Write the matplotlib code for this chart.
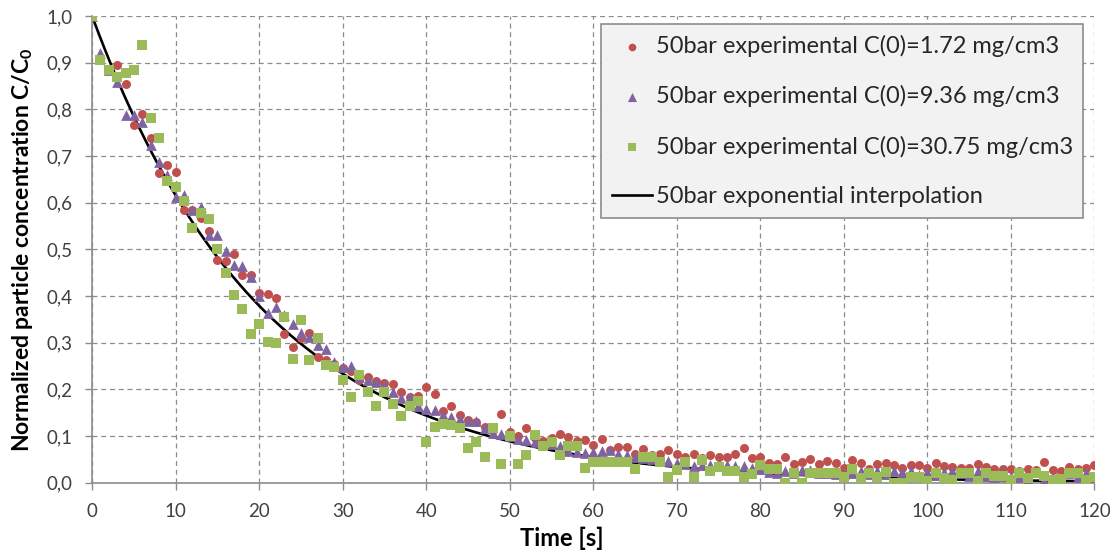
import numpy as np
import matplotlib
matplotlib.use("Agg")
import matplotlib.pyplot as plt
from matplotlib.ticker import FuncFormatter, MultipleLocator

plt.rcParams['font.family'] = ['Lato', 'DejaVu Sans']
plt.rcParams['mathtext.fontset'] = 'custom'
plt.rcParams['mathtext.rm'] = 'Lato'
plt.rcParams['mathtext.bf'] = 'Lato:bold'

time_s = list(range(0, 121))

red_172 = [1.0, 0.91, 0.885, 0.895, 0.854, 0.766, 0.79, 0.739, 0.663, 0.681,
           0.666, 0.584, 0.585, 0.568, 0.54, 0.477, 0.474, 0.491, 0.444, 0.444,
           0.407, 0.404, 0.395, 0.319, 0.29, 0.311, 0.321, 0.27, 0.262, 0.255,
           0.245, 0.24, 0.22, 0.227, 0.218, 0.213, 0.211, 0.195, 0.183, 0.186,
           0.205, 0.189, 0.154, 0.164, 0.145, 0.134, 0.13, 0.12, 0.112, 0.148,
           0.109, 0.1, 0.116, 0.095, 0.09, 0.096, 0.104, 0.098, 0.089, 0.091,
           0.081, 0.094, 0.069, 0.076, 0.076, 0.062, 0.071, 0.06, 0.062, 0.069,
           0.062, 0.055, 0.062, 0.053, 0.059, 0.054, 0.055, 0.062, 0.074, 0.052,
           0.054, 0.043, 0.039, 0.054, 0.039, 0.045, 0.051, 0.04, 0.046, 0.043,
           0.032, 0.048, 0.041, 0.03, 0.039, 0.043, 0.038, 0.032, 0.037, 0.037,
           0.032, 0.041, 0.036, 0.034, 0.032, 0.032, 0.039, 0.034, 0.03, 0.029,
           0.03, 0.025, 0.029, 0.026, 0.045, 0.026, 0.025, 0.034, 0.029, 0.032,
           0.038]

purple_936 = [1.0, 0.92, 0.884, 0.859, 0.789, 0.788, 0.772, 0.724, 0.688, 0.659,
              0.613, 0.616, 0.584, 0.591, 0.531, 0.531, 0.496, 0.466, 0.465, 0.441,
              0.399, 0.363, 0.377, 0.36, 0.341, 0.321, 0.313, 0.296, 0.286, 0.259,
              0.247, 0.249, 0.227, 0.221, 0.216, 0.209, 0.195, 0.181, 0.184, 0.164,
              0.157, 0.155, 0.146, 0.141, 0.136, 0.132, 0.131, 0.118, 0.107, 0.104,
              0.1, 0.093, 0.091, 0.087, 0.082, 0.082, 0.079, 0.068, 0.066, 0.064,
              0.066, 0.067, 0.069, 0.062, 0.06, 0.055, 0.053, 0.05, 0.048, 0.046,
              0.043, 0.04, 0.035, 0.038, 0.038, 0.038, 0.038, 0.035, 0.035, 0.032,
              0.03, 0.022, 0.021, 0.025, 0.02, 0.026, 0.027, 0.02, 0.02, 0.019,
              0.018, 0.02, 0.025, 0.018, 0.024, 0.018, 0.024, 0.022, 0.025, 0.017,
              0.022, 0.016, 0.022, 0.024, 0.02, 0.015, 0.024, 0.015, 0.012, 0.022,
              0.012, 0.012, 0.005, 0.023, 0.005, 0.012, 0.01, 0.02, 0.012, 0.02,
              0.012]

green_3075 = [1.0, 0.906, 0.885, 0.87, 0.879, 0.884, 0.938, 0.781, 0.739, 0.646,
              0.634, 0.604, 0.546, 0.579, 0.566, 0.5, 0.45, 0.402, 0.372, 0.318,
              0.34, 0.302, 0.299, 0.356, 0.266, 0.349, 0.263, 0.309, 0.252, 0.247,
              0.22, 0.184, 0.231, 0.194, 0.164, 0.194, 0.169, 0.143, 0.164, 0.174,
              0.086, 0.12, 0.125, 0.124, 0.118, 0.075, 0.086, 0.055, 0.116, 0.039,
              0.1, 0.039, 0.059, 0.102, 0.079, 0.086, 0.059, 0.079, 0.079, 0.031,
              0.045, 0.045, 0.045, 0.045, 0.045, 0.029, 0.055, 0.055, 0.045, 0.012,
              0.026, 0.045, 0.012, 0.048, 0.025, 0.034, 0.024, 0.024, 0.012, 0.018,
              0.038, 0.029, 0.029, 0.0, 0.021, 0.0, 0.021, 0.021, 0.021, 0.02,
              0.012, 0.029, 0.009, 0.021, 0.011, 0.023, 0.0, 0.0, 0.011, 0.011,
              0.004, 0.02, 0.01, 0.005, 0.02, 0.02, 0.003, 0.02, 0.015, 0.015,
              0.005, 0.02, 0.01, 0.02, 0.015, 0.005, 0.008, 0.02, 0.02, 0.005,
              0.012]

decay_rate = 0.0485  # exponential interpolation constant, C/C0 = exp(-k t)

labels = ["50bar experimental C(0)=1.72 mg/cm3",
          "50bar experimental C(0)=9.36 mg/cm3",
          "50bar experimental C(0)=30.75 mg/cm3",
          "50bar exponential interpolation"]

fig = plt.figure(figsize=(11.1, 5.56), dpi=100)
ax = fig.add_axes([0.083, 0.132, 0.903, 0.839])

t_line = np.linspace(0, 120, 600)
line, = ax.plot(t_line, np.exp(-decay_rate * t_line), color='black', lw=1.9, zorder=2)
s1 = ax.scatter(time_s, red_172, marker='o', s=42, color='#C0504D', linewidths=0, zorder=3)
s2 = ax.scatter(time_s, purple_936, marker='^', s=60, color='#8064A2', linewidths=0, zorder=4)
s3 = ax.scatter(time_s, green_3075, marker='s', s=50, color='#9BBB59', linewidths=0, zorder=5)

ax.set_xlim(0, 120)
ax.set_ylim(0, 1.0)
ax.xaxis.set_major_locator(MultipleLocator(10))
ax.yaxis.set_major_locator(MultipleLocator(0.1))
ax.yaxis.set_major_formatter(FuncFormatter(lambda v, p: f"{v:.1f}".replace('.', ',')))
ax.grid(True, color='#8c8c8c', linestyle=(0, (4, 3)), linewidth=0.9, zorder=0)
ax.set_axisbelow(True)
for side in ['top', 'right']:
    ax.spines[side].set_visible(False)
for side in ['left', 'bottom']:
    ax.spines[side].set_color('#8c8c8c')
    ax.spines[side].set_linewidth(1.2)
ax.tick_params(axis='both', colors='#8c8c8c', labelcolor='#404040', labelsize=13.5, length=5, width=1)
ax.tick_params(axis='y', pad=9)
ax.tick_params(axis='x', pad=10)

ax.set_xlabel("Time [s]", fontsize=17, fontweight='bold', color='black')
ax.xaxis.set_label_coords(0.469, -0.094)
ax.set_ylabel(r"Normalized particle concentration C/C$_\mathbf{0}$", fontsize=16.5,
              fontweight='bold', color='black', labelpad=8)

leg = ax.legend([s1, s2, s3, line], labels, loc='upper right', bbox_to_anchor=(0.989, 0.983),
                fontsize=17, frameon=True, fancybox=False, borderpad=0.45,
                labelspacing=1.2, handlelength=1.7, handletextpad=0.15, markerscale=0.85,
                borderaxespad=0.0)
leg.get_frame().set_facecolor('#f2f2f2')
leg.get_frame().set_edgecolor('#8c8c8c')
leg.get_frame().set_linewidth(1.2)
leg.get_frame().set_alpha(1.0)
for txt in leg.get_texts():
    txt.set_color('#262626')

fig.savefig("out.png", dpi=100)
